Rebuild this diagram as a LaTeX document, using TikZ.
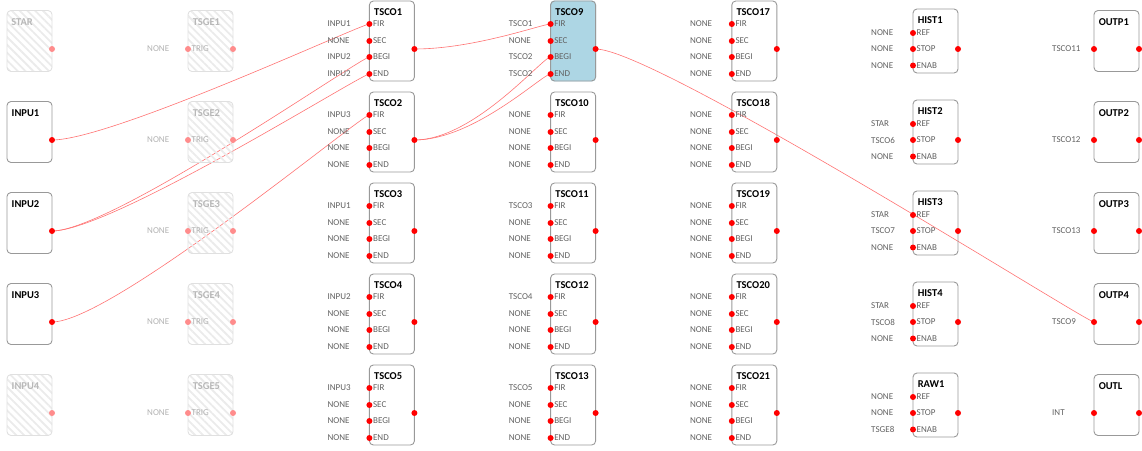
\documentclass[tikz,border=0pt]{standalone}
\usepackage{fontspec}
\setmainfont{Carlito}
\usetikzlibrary{patterns.meta, backgrounds}
\definecolor{tscoblue}{RGB}{173,214,228}

\begin{document}
\begin{tikzpicture}[x=1pt, y=-1pt,
  blk/.style={draw=black!40, rounded corners=4pt, line width=0.9pt,
              minimum width=45pt, inner sep=0pt},
  offblk/.style={blk, draw=black!12,
              pattern={Lines[angle=-45, distance=5.5pt, line width=1.8pt]},
              pattern color=black!8},
  ttl/.style={anchor=west, inner sep=0pt, font=\fontsize{10.5}{12}\selectfont\bfseries},
  offttl/.style={ttl, text=black!28},
  lbl/.style={anchor=west, inner sep=0pt, text=black!62,
              font=\fontsize{9}{10}\selectfont},
  offlbl/.style={lbl, text=black!30},
  pindot/.style={circle, fill=red, inner sep=0pt, minimum size=6pt},
  offdot/.style={pindot, fill=red!45},
  wire/.style={red!55, line width=0.6pt,
               to path={.. controls +(60,0) and +(-8,0) .. (\tikztotarget)}}]
\useasboundingbox (0,0) rectangle (1142,450);

% source column
\foreach \nm/\j in {INPU1/1, INPU2/2, INPU3/3}{
  \pgfmathsetmacro\y{49+91*\j}
  \node[blk, minimum height=61pt] (\nm) at (29.5,\y-8) {};
  \node[ttl] (\nm-ttl) at ([xshift=5pt, yshift=-12pt]\nm.north west) {\nm};
  \node[pindot] (\nm-out) at (52,\y) {};
}
\foreach \nm/\j in {STAR/0, INPU4/4}{
  \pgfmathsetmacro\y{49+91*\j}
  \node[offblk, minimum height=61pt] (\nm) at (29.5,\y-8) {};
  \node[offttl] (\nm-ttl) at ([xshift=5pt, yshift=-12pt]\nm.north west) {\nm};
  \node[offdot] (\nm-out) at (52,\y) {};
}

% trigger generators (all off)
\foreach \j in {1,...,5}{
  \pgfmathsetmacro\y{49+91*(\j-1)}
  \node[offblk, minimum height=61pt] (TSGE\j) at (210.5,\y-8) {};
  \node[offttl] (TSGE\j-ttl) at ([xshift=5pt, yshift=-12pt]TSGE\j.north west) {TSGE\j};
  \node[offdot] (TSGE\j-in) at (188,\y) {};
  \node[offdot] (TSGE\j-out) at (233,\y) {};
  \node[offlbl] (TSGE\j-src) at (147,\y) {NONE};
  \node[offlbl] (TSGE\j-pin) at (191.5,\y) {TRIG};
}

% TSCO blocks
\foreach \nm/\i/\j/\sa/\sb/\sc/\sd in {
    TSCO1/2/0/INPU1/NONE/INPU2/INPU2, TSCO2/2/1/INPU3/NONE/NONE/NONE,
    TSCO3/2/2/INPU1/NONE/NONE/NONE, TSCO4/2/3/INPU2/NONE/NONE/NONE,
    TSCO5/2/4/INPU3/NONE/NONE/NONE,
    TSCO9/3/0/TSCO1/NONE/TSCO2/TSCO2, TSCO10/3/1/NONE/NONE/NONE/NONE,
    TSCO11/3/2/TSCO3/NONE/NONE/NONE, TSCO12/3/3/TSCO4/NONE/NONE/NONE,
    TSCO13/3/4/TSCO5/NONE/NONE/NONE,
    TSCO17/4/0/NONE/NONE/NONE/NONE, TSCO18/4/1/NONE/NONE/NONE/NONE,
    TSCO19/4/2/NONE/NONE/NONE/NONE, TSCO20/4/3/NONE/NONE/NONE/NONE,
    TSCO21/4/4/NONE/NONE/NONE/NONE}{
  \pgfmathsetmacro\x{7+181.2*\i}
  \pgfmathsetmacro\y{49+91*\j}
  \node[blk, minimum height=80pt] (\nm) at (\x+22.5,\y-8) {};
  \node[ttl] (\nm-ttl) at ([xshift=5pt, yshift=-11.5pt]\nm.north west) {\nm};
  \node[pindot] (\nm-out) at (\x+45,\y) {};
  \foreach \p/\dy/\s in {FIR/-25/\sa, SEC/-8/\sb, BEGI/8/\sc, END/25/\sd}{
    \node[pindot] (\nm-\p) at (\x,\y+\dy) {};
    \node[lbl] (\nm-\p-src) at (\x-42,\y+\dy) {\s};
    \node[lbl] (\nm-\p-txt) at (\x+3.5,\y+\dy) {\p};
  }
}

% HIST / RAW blocks
\foreach \nm/\j/\sa/\sb/\sc in {HIST1/0/NONE/NONE/NONE, HIST2/1/STAR/TSCO6/NONE,
    HIST3/2/STAR/TSCO7/NONE, HIST4/3/STAR/TSCO8/NONE, RAW1/4/NONE/NONE/TSGE8}{
  \pgfmathsetmacro\y{49+91*\j}
  \node[blk, minimum height=64pt] (\nm) at (935.5,\y-8) {};
  \node[ttl] (\nm-ttl) at ([xshift=5pt, yshift=-12pt]\nm.north west) {\nm};
  \node[pindot] (\nm-out) at (958,\y) {};
  \foreach \p/\dy/\s in {REF/-16/\sa, STOP/0/\sb, ENAB/16.5/\sc}{
    \node[pindot] (\nm-\p) at (913,\y+\dy) {};
    \node[lbl] (\nm-\p-src) at (871,\y+\dy) {\s};
    \node[lbl] (\nm-\p-txt) at (916.5,\y+\dy) {\p};
  }
}

% outputs
\foreach \nm/\j/\sa in {OUTP1/0/TSCO11, OUTP2/1/TSCO12, OUTP3/2/TSCO13,
    OUTP4/3/TSCO9, OUTL/4/INT}{
  \pgfmathsetmacro\y{49+91*\j}
  \node[blk, minimum height=61pt] (\nm) at (1116.5,\y-8) {};
  \node[ttl] (\nm-ttl) at ([xshift=5pt, yshift=-12pt]\nm.north west) {\nm};
  \node[pindot] (\nm-in) at (1094,\y) {};
  \node[pindot] (\nm-out) at (1139,\y) {};
  \node[lbl] (\nm-src) at (1052,\y) {\sa};
}

\begin{scope}[on background layer]
  \fill[tscoblue, rounded corners=4pt] (TSCO9.north west) rectangle (TSCO9.south east);
  \draw[wire] (INPU1-out.center) to (TSCO1-FIR.center);
  \draw[wire] (INPU2-out.center) to (TSCO1-BEGI.center);
  \draw[wire] (INPU2-out.center) to (TSCO1-END.center);
  \draw[wire] (INPU3-out.center) to (TSCO2-FIR.center);
  \draw[wire] (TSCO1-out.center) to (TSCO9-FIR.center);
  \draw[wire] (TSCO2-out.center) to (TSCO9-BEGI.center);
  \draw[wire] (TSCO2-out.center) to (TSCO9-END.center);
  \draw[wire] (TSCO9-out.center) to (OUTP4-in.center);
\end{scope}
\end{tikzpicture}
\end{document}
